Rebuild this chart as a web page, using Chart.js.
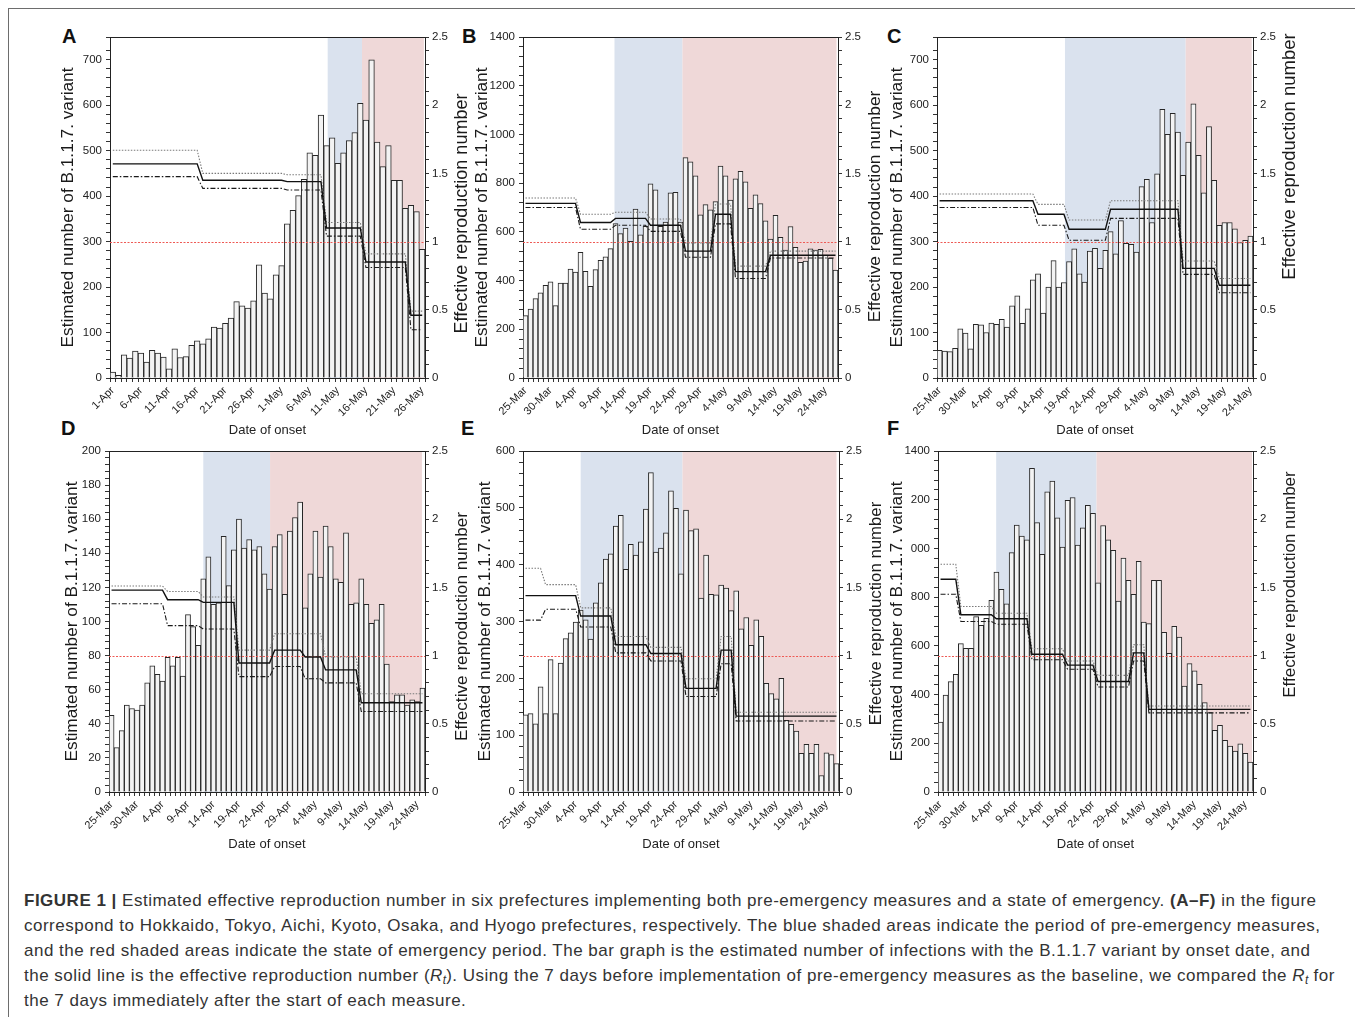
<!DOCTYPE html>
<html><head><meta charset="utf-8">
<script src="https://cdn.jsdelivr.net/npm/chart.js@4.4.1/dist/chart.umd.min.js"></script>
<style>
html,body{margin:0;padding:0;background:#fff;}
body{width:1355px;height:1017px;position:relative;overflow:hidden;font-family:'Liberation Sans',Arial,Helvetica,sans-serif;}
#frame{position:absolute;left:8px;top:8px;width:1400px;height:1100px;border:1px solid #6d6d6d;}
.lt{position:absolute;font-weight:bold;font-size:20px;line-height:20px;color:#111;}
canvas{position:absolute;}
#cap{position:absolute;left:24px;top:888px;font-size:17px;line-height:25px;color:#333;white-space:nowrap;letter-spacing:0.5px;}
#cap sub{font-size:70%;line-height:0;vertical-align:-0.25em;letter-spacing:0;}
</style></head>
<body>
<div id="frame"></div>
<div class="lt" style="left:62px;top:26px">A</div>
<div class="lt" style="left:462px;top:26px">B</div>
<div class="lt" style="left:887px;top:26px">C</div>
<div class="lt" style="left:61px;top:418px">D</div>
<div class="lt" style="left:461px;top:418px">E</div>
<div class="lt" style="left:887px;top:418px">F</div>
<div id="cap"><b>FIGURE 1 |</b> Estimated effective reproduction number in six prefectures implementing both pre-emergency measures and a state of emergency. <b>(A–F)</b> in the figure<br>correspond to Hokkaido, Tokyo, Aichi, Kyoto, Osaka, and Hyogo prefectures, respectively. The blue shaded areas indicate the period of pre-emergency measures,<br>and the red shaded areas indicate the state of emergency period. The bar graph is the estimated number of infections with the B.1.1.7 variant by onset date, and<br>the solid line is the effective reproduction number (<i>R<sub>t</sub></i>). Using the 7 days before implementation of pre-emergency measures as the baseline, we compared the <i>R<sub>t</sub></i> for<br>the 7 days immediately after the start of each measure.</div>
<script>
// ---------------- DATA ----------------
const dates = ['25-Mar','26-Mar','27-Mar','28-Mar','29-Mar','30-Mar','31-Mar',
 '1-Apr','2-Apr','3-Apr','4-Apr','5-Apr','6-Apr','7-Apr','8-Apr','9-Apr','10-Apr',
 '11-Apr','12-Apr','13-Apr','14-Apr','15-Apr','16-Apr','17-Apr','18-Apr','19-Apr','20-Apr',
 '21-Apr','22-Apr','23-Apr','24-Apr','25-Apr','26-Apr','27-Apr','28-Apr','29-Apr','30-Apr',
 '1-May','2-May','3-May','4-May','5-May','6-May','7-May','8-May','9-May','10-May',
 '11-May','12-May','13-May','14-May','15-May','16-May','17-May','18-May','19-May','20-May',
 '21-May','22-May','23-May','24-May','25-May','26-May'];

const catA = dates.slice(7);      // 1-Apr .. 26-May
const catB = dates.slice(0, 63);  // 25-Mar .. 26-May
const catC = dates.slice(0, 61);  // 25-Mar .. 24-May
const catD = dates.slice(0, 62);  // 25-Mar .. 25-May
const catE = dates.slice(0, 63);
const catF = dates.slice(0, 62);

const barsA = [13,6,51,44,59,55,35,61,55,46,20,64,45,47,72,82,75,86,112,110,120,132,168,159,154,170,249,187,174,227,247,339,369,401,437,495,490,578,511,528,472,495,522,540,604,567,700,519,465,511,435,435,373,380,366,283];
const barsB = [256,283,326,350,380,395,297,390,390,447,435,516,438,376,445,483,497,531,634,593,616,561,694,588,623,797,773,623,640,760,762,640,905,887,830,670,712,690,724,870,830,730,818,848,805,697,752,716,645,570,668,578,525,622,536,475,480,530,525,528,505,492,443];
const barsC = [61,59,58,65,108,99,64,118,117,100,121,118,129,112,159,181,120,152,216,229,143,200,258,200,210,256,284,229,211,279,285,241,281,322,273,346,296,294,277,421,437,342,449,591,536,582,541,446,519,603,490,407,553,435,336,342,342,328,298,303,312];
const barsD = [45,26,36,51,49,48,51,64,74,69,65,79,74,79,68,104,97,86,125,138,110,111,150,121,142,160,143,148,142,144,128,119,144,151,116,153,161,170,108,128,153,126,156,144,125,123,152,110,111,125,110,99,101,110,75,53,57,57,51,54,53,61];
const barsE = [136,138,120,185,138,233,138,227,270,280,299,320,303,269,333,368,410,419,468,487,392,436,417,440,498,562,422,429,456,530,499,384,496,460,463,341,417,348,347,364,359,319,354,287,307,258,303,274,191,173,164,200,126,119,107,68,84,68,84,29,69,66,50];
const barsF = [287,398,453,483,609,590,590,720,684,713,787,903,832,773,983,1096,1051,1035,1329,1106,976,1232,1277,1126,1006,1197,1209,1014,1085,1177,1144,859,1094,1035,992,784,960,869,812,947,698,691,869,869,656,569,680,636,435,527,497,442,367,326,253,274,212,189,168,198,159,123];

// Effective reproduction number (solid), upper bound (dotted), lower bound (dash-dot)
const rtA = [
 1.57,1.57,1.57,1.57,1.57, 1.57,1.57,1.57,1.57,1.57, 1.57,1.57,1.57,1.57,1.57, 1.57,
 1.45,1.45,1.45,1.45,1.45, 1.45,1.45,1.45,1.45,1.45, 1.45,1.45,1.45,1.45,1.45,
 1.44,1.44,1.44,1.44,1.44, 1.44,1.44,
 1.10,1.10,1.10,1.10,1.10, 1.10,1.10,
 0.85,0.85,0.85,0.85,0.85, 0.85,0.85,0.85,
 0.46,0.46,0.46];
const upA = [
 1.67,1.67,1.67,1.67,1.67, 1.67,1.67,1.67,1.67,1.67, 1.67,1.67,1.67,1.67,1.67, 1.67,
 1.50,1.50,1.50,1.50,1.50, 1.50,1.50,1.50,1.50,1.50, 1.50,1.50,1.50,1.50,1.50,
 1.49,1.49,1.49,1.49,1.49, 1.49,1.49,
 1.14,1.14,1.14,1.14,1.14, 1.14,1.14,
 0.91,0.91,0.91,0.91,0.91, 0.91,0.91,0.91,
 0.49,0.49,0.49];
const loA = [
 1.476,1.476,1.476,1.476,1.476, 1.476,1.476,1.476,1.476,1.476, 1.476,1.476,1.476,1.476,1.476, 1.476,
 1.39,1.39,1.39,1.39,1.39, 1.39,1.39,1.39,1.39,1.39, 1.39,1.39,1.39,1.39,1.39,
 1.378,1.378,1.378,1.378,1.378, 1.378,1.378,
 1.04,1.04,1.04,1.04,1.04, 1.04,1.04,
 0.81,0.81,0.81,0.81,0.81, 0.81,0.81,0.81,
 0.354,0.354,0.354];

const rtB = [
 1.28,1.28,1.28,1.28,1.28, 1.28,1.28,1.28,1.28,1.28, 1.28,
 1.14,1.14,1.14,1.14,1.14, 1.14,1.14,
 1.17,1.17,1.17,1.17,1.17, 1.17,1.17,
 1.12,1.12,1.12,1.12,1.12, 1.12,1.12,
 0.93,0.93,0.93,0.93,0.93, 0.93,
 1.20,1.20,1.20,1.20,
 0.78,0.78,0.78,0.78,0.78, 0.78,0.78,
 0.90,0.90,0.90,0.90,0.90, 0.90,0.90,0.90,0.90,0.90, 0.90,0.90,0.90,0.90];
const upB = [
 1.32,1.32,1.32,1.32,1.32, 1.32,1.32,1.32,1.32,1.32, 1.32,
 1.20,1.20,1.20,1.20,1.20, 1.20,1.20,
 1.215,1.215,1.215,1.215,1.215, 1.215,1.215,
 1.166,1.166,1.166,1.166,1.166, 1.166,1.166,
 0.99,0.99,0.99,0.99,0.99, 0.99,
 1.276,1.276,1.276,1.276,
 0.82,0.82,0.82,0.82,0.82, 0.82,0.82,
 0.93,0.93,0.93,0.93,0.93, 0.93,0.93,0.93,0.93,0.93, 0.93,0.93,0.93,0.93];
const loB = [
 1.25,1.25,1.25,1.25,1.25, 1.25,1.25,1.25,1.25,1.25, 1.25,
 1.09,1.09,1.09,1.09,1.09, 1.09,1.09,
 1.12,1.12,1.12,1.12,1.12, 1.12,1.12,
 1.075,1.075,1.075,1.075,1.075, 1.075,1.075,
 0.885,0.885,0.885,0.885,0.885, 0.885,
 1.13,1.13,1.13,1.13,
 0.73,0.73,0.73,0.73,0.73, 0.73,0.73,
 0.88,0.88,0.88,0.88,0.88, 0.88,0.88,0.88,0.88,0.88, 0.88,0.88,0.88,0.88];

const rtC = [
 1.30,1.30,1.30,1.30,1.30, 1.30,1.30,1.30,1.30,1.30, 1.30,1.30,1.30,1.30,1.30, 1.30,1.30,1.30,1.30,
 1.20,1.20,1.20,1.20,1.20, 1.20,
 1.09,1.09,1.09,1.09,1.09, 1.09,1.09,1.09,
 1.237,1.237,1.237,1.237,1.237, 1.237,1.237,1.237,1.237,1.237, 1.237,1.237,1.237,1.237,
 0.804,0.804,0.804,0.804,0.804, 0.804,0.804,
 0.68,0.68,0.68,0.68,0.68, 0.68,0.68];
const upC = [
 1.349,1.349,1.349,1.349,1.349, 1.349,1.349,1.349,1.349,1.349, 1.349,1.349,1.349,1.349,1.349, 1.349,1.349,1.349,1.349,
 1.273,1.273,1.273,1.273,1.273, 1.273,
 1.158,1.158,1.158,1.158,1.158, 1.158,1.158,1.158,
 1.30,1.30,1.30,1.30,1.30, 1.30,1.30,1.30,1.30,1.30, 1.30,1.30,1.30,1.30,
 0.858,0.858,0.858,0.858,0.858, 0.858,0.858,
 0.73,0.73,0.73,0.73,0.73, 0.73,0.73];
const loC = [
 1.25,1.25,1.25,1.25,1.25, 1.25,1.25,1.25,1.25,1.25, 1.25,1.25,1.25,1.25,1.25, 1.25,1.25,1.25,1.25,
 1.12,1.12,1.12,1.12,1.12, 1.12,
 1.01,1.01,1.01,1.01,1.01, 1.01,1.01,1.01,
 1.17,1.17,1.17,1.17,1.17, 1.17,1.17,1.17,1.17,1.17, 1.17,1.17,1.17,1.17,
 0.76,0.76,0.76,0.76,0.76, 0.76,0.76,
 0.625,0.625,0.625,0.625,0.625, 0.625,0.625];

const rtD = [
 1.48,1.48,1.48,1.48,1.48, 1.48,1.48,1.48,1.48,1.48, 1.48,
 1.41,1.41,1.41,1.41,1.41, 1.41,1.41,
 1.39,1.39,1.39,1.39,1.39, 1.39,1.39,
 0.946,0.946,0.946,0.946,0.946, 0.946,0.946,
 1.04,1.04,1.04,1.04,1.04, 1.04,
 0.99,0.99,0.99,0.99,
 0.895,0.895,0.895,0.895,0.895, 0.895,0.895,
 0.654,0.654,0.654,0.654,0.654, 0.654,0.654,0.654,0.654,0.654, 0.654,0.654,0.654];
const upD = [
 1.51,1.51,1.51,1.51,1.51, 1.51,1.51,1.51,1.51,1.51, 1.51,
 1.47,1.47,1.47,1.47,1.47, 1.47,1.47,
 1.43,1.43,1.43,1.43,1.43, 1.43,1.43,
 1.04,1.04,1.04,1.04,1.04, 1.04,1.04,
 1.16,1.16,1.16,1.16,1.16, 1.16,
 1.16,1.16,1.16,1.16,
 0.99,0.99,0.99,0.99,0.99, 0.99,0.99,
 0.72,0.72,0.72,0.72,0.72, 0.72,0.72,0.72,0.72,0.72, 0.72,0.72,0.72];
const loD = [
 1.38,1.38,1.38,1.38,1.38, 1.38,1.38,1.38,1.38,1.38, 1.38,
 1.22,1.22,1.22,1.22,1.22, 1.22,1.22,
 1.195,1.195,1.195,1.195,1.195, 1.195,1.195,
 0.846,0.846,0.846,0.846,0.846, 0.846,0.846,
 0.92,0.92,0.92,0.92,0.92, 0.92,
 0.83,0.83,0.83,0.83,
 0.80,0.80,0.80,0.80,0.80, 0.80,0.80,
 0.59,0.59,0.59,0.59,0.59, 0.59,0.59,0.59,0.59,0.59, 0.59,0.59,0.59];

const rtE = [
 1.44,1.44,1.44,1.44,
 1.44,1.44,1.44,1.44,1.44, 1.44,1.44,
 1.29,1.29,1.29,1.29,1.29, 1.29,1.29,
 1.08,1.08,1.08,1.08,1.08, 1.08,1.08,
 1.015,1.015,1.015,1.015,1.015, 1.015,1.015,
 0.76,0.76,0.76,0.76,0.76, 0.76,0.76,
 1.04,1.04,1.04,
 0.556,0.556,0.556,0.556,0.556, 0.556,0.556,0.556,0.556,0.556, 0.556,0.556,0.556,0.556,0.556, 0.556,0.556,0.556,0.556,0.556, 0.556];
const upE = [
 1.64,1.64,1.64,1.64,
 1.52,1.52,1.52,1.52,1.52, 1.52,1.52,
 1.35,1.35,1.35,1.35,1.35, 1.35,1.35,
 1.14,1.14,1.14,1.14,1.14, 1.14,1.14,
 1.06,1.06,1.06,1.06,1.06, 1.06,1.06,
 0.83,0.83,0.83,0.83,0.83, 0.83,0.83,
 1.14,1.14,1.14,
 0.585,0.585,0.585,0.585,0.585, 0.585,0.585,0.585,0.585,0.585, 0.585,0.585,0.585,0.585,0.585, 0.585,0.585,0.585,0.585,0.585, 0.585];
const loE = [
 1.26,1.26,1.26,1.26,
 1.34,1.34,1.34,1.34,1.34, 1.34,1.34,
 1.21,1.21,1.21,1.21,1.21, 1.21,1.21,
 1.02,1.02,1.02,1.02,1.02, 1.02,1.02,
 0.96,0.96,0.96,0.96,0.96, 0.96,0.96,
 0.70,0.70,0.70,0.70,0.70, 0.70,0.70,
 0.94,0.94,0.94,
 0.52,0.52,0.52,0.52,0.52, 0.52,0.52,0.52,0.52,0.52, 0.52,0.52,0.52,0.52,0.52, 0.52,0.52,0.52,0.52,0.52, 0.52];

const rtF = [
 1.56,1.56,1.56,1.56,
 1.30,1.30,1.30,1.30,1.30, 1.30,1.30,
 1.27,1.27,1.27,1.27,1.27, 1.27,1.27,
 1.01,1.01,1.01,1.01,1.01, 1.01,1.01,
 0.93,0.93,0.93,0.93,0.93, 0.93,
 0.81,0.81,0.81,0.81,0.81, 0.81,0.81,
 1.02,1.02,1.02,
 0.606,0.606,0.606,0.606,0.606, 0.606,0.606,0.606,0.606,0.606, 0.606,0.606,0.606,0.606,0.606, 0.606,0.606,0.606,0.606,0.606, 0.606];
const upF = [
 1.67,1.67,1.67,1.67,
 1.36,1.36,1.36,1.36,1.36, 1.36,1.36,
 1.31,1.31,1.31,1.31,1.31, 1.31,1.31,
 1.05,1.05,1.05,1.05,1.05, 1.05,1.05,
 0.96,0.96,0.96,0.96,0.96, 0.96,
 0.855,0.855,0.855,0.855,0.855, 0.855,0.855,
 1.08,1.08,1.08,
 0.63,0.63,0.63,0.63,0.63, 0.63,0.63,0.63,0.63,0.63, 0.63,0.63,0.63,0.63,0.63, 0.63,0.63,0.63,0.63,0.63, 0.63];
const loF = [
 1.45,1.45,1.45,1.45,
 1.25,1.25,1.25,1.25,1.25, 1.25,1.25,
 1.23,1.23,1.23,1.23,1.23, 1.23,1.23,
 0.97,0.97,0.97,0.97,0.97, 0.97,0.97,
 0.90,0.90,0.90,0.90,0.90, 0.90,
 0.77,0.77,0.77,0.77,0.77, 0.77,0.77,
 0.96,0.96,0.96,
 0.58,0.58,0.58,0.58,0.58, 0.58,0.58,0.58,0.58,0.58, 0.58,0.58,0.58,0.58,0.58, 0.58,0.58,0.58,0.58,0.58, 0.58];

// Shaded periods, in days from the left edge of the first bar
const preA = [38.7, 44.8],  soeA = [44.8, 55.8];
const preB = [18.3, 31.9],  soeB = [31.9, 62.7];
const preC = [24.7, 48.0],  soeC = [48.0, 60.75];
const preD = [18.5, 31.6],  soeD = [31.6, 61.4];
const preE = [11.5, 31.8],  soeE = [31.8, 62.5];
const preF = [11.45, 31.2], soeF = [31.2, 61.8];

// Axis tick labels
const countTicksA = [0,100,200,300,400,500,600,700];
const countLabelsA = ['0','100','200','300','400','500','600','700'];
const countTicksB = [0,200,400,600,800,1000,1200,1400];
const countLabelsB = ['0','200','400','600','800','1000','1200','1400'];
const countTicksC = [0,100,200,300,400,500,600,700];
const countLabelsC = ['0','100','200','300','400','500','600','700'];
const countTicksD = [0,20,40,60,80,100,120,140,160,180,200];
const countLabelsD = ['0','20','40','60','80','100','120','140','160','180','200'];
const countTicksE = [0,100,200,300,400,500,600];
const countLabelsE = ['0','100','200','300','400','500','600'];
const countTicksF = [0,200,400,600,800,1000,1200,1400];
const countLabelsF = ['0','200','400','600','800','000','200','1400'];
const rtTicks = [0,0.5,1,1.5,2,2.5];
const rtLabels = ['0','0.5','1','1.5','2','2.5'];

// ---------------- DRAWING ----------------
const FONT = "'Liberation Sans', Arial, Helvetica, sans-serif";
Chart.defaults.font.family = FONT;
Chart.defaults.color = '#222';

const decor = {
  id: 'decor',
  beforeDatasetsDraw(chart, args, o) {
    const {ctx, chartArea: ca, scales: {x}} = chart;
    const w = x.getPixelForValue(1) - x.getPixelForValue(0);
    const x0 = x.getPixelForValue(0) - w / 2;
    ctx.save();
    ctx.fillStyle = o.preColor;
    ctx.fillRect(x0 + o.pre[0] * w, ca.top, (o.pre[1] - o.pre[0]) * w, ca.bottom - ca.top);
    ctx.fillStyle = o.soeColor;
    ctx.fillRect(x0 + o.soe[0] * w, ca.top, (o.soe[1] - o.soe[0]) * w, ca.bottom - ca.top);
    ctx.restore();
  },
  afterDatasetDraw(chart, args, o) {
    if (args.index !== 0) return;
    const {ctx, chartArea: ca, scales: {y1}} = chart;
    const yy = Math.round(y1.getPixelForValue(1)) + 0.5;
    ctx.save();
    ctx.strokeStyle = o.refColor; ctx.lineWidth = 1; ctx.setLineDash([2, 1.5]);
    ctx.beginPath(); ctx.moveTo(ca.left, yy); ctx.lineTo(ca.right, yy); ctx.stroke();
    ctx.restore();
  },
  afterDraw(chart, args, o) {
    const {ctx, chartArea: ca} = chart;
    ctx.save();
    ctx.strokeStyle = '#222'; ctx.lineWidth = 1;
    const t = Math.round(ca.top) + 0.5;
    ctx.beginPath(); ctx.moveTo(ca.left, t); ctx.lineTo(ca.right, t); ctx.stroke();
    ctx.translate(ca.right + o.rtTitleGap, (ca.top + ca.bottom) / 2 + o.rtTitleShift);
    ctx.rotate(-Math.PI / 2);
    ctx.font = o.rtTitleSize + 'px ' + FONT;
    ctx.fillStyle = '#1a1a1a'; ctx.textAlign = 'center'; ctx.textBaseline = 'middle';
    ctx.fillText(o.rtTitle, 0, 0);
    ctx.restore();
  }
};

const LEFTW = 75, RIGHTW = 52, TOPPAD = 20, BOTH = 62;

function panel(p) {
  const cv = document.createElement('canvas');
  const W = LEFTW + p.w + RIGHTW, H = TOPPAD + p.h + BOTH;
  cv.width = W; cv.height = H;
  cv.style.left = (p.left - LEFTW) + 'px';
  cv.style.top = (p.top - TOPPAD) + 'px';
  cv.style.width = W + 'px'; cv.style.height = H + 'px';
  document.body.appendChild(cv);
  const majorLabel = (vals, labs) => (v) => {
    for (let i = 0; i < vals.length; i++) if (Math.abs(vals[i] - v) < 1e-6) return labs[i];
    return '';
  };
  const tickFont = {size: 11.5, family: FONT};
  new Chart(cv, {
    type: 'bar',
    data: {
      labels: p.cats,
      datasets: [
        {type: 'bar', data: p.bars, yAxisID: 'y', backgroundColor: '#f3f3f3', borderColor: '#262626',
         borderWidth: 1, barPercentage: 1, categoryPercentage: 1, order: 10},
        {type: 'line', data: p.up, yAxisID: 'y1', borderColor: '#7a7a7a', borderWidth: 1.1,
         borderDash: [1.5, 1.5], pointRadius: 0, tension: 0, fill: false, order: 3},
        {type: 'line', data: p.lo, yAxisID: 'y1', borderColor: '#1a1a1a', borderWidth: 1.1,
         borderDash: [5, 2, 1.5, 2], pointRadius: 0, tension: 0, fill: false, order: 2},
        {type: 'line', data: p.rt, yAxisID: 'y1', borderColor: '#111', borderWidth: 1.4,
         pointRadius: 0, tension: 0, fill: false, order: 1}
      ]
    },
    options: {
      responsive: false, animation: false, devicePixelRatio: 1,
      layout: {padding: {top: TOPPAD, left: 0, right: 0, bottom: 0}},
      plugins: {
        legend: {display: false}, tooltip: {enabled: false},
        decor: {pre: p.pre, soe: p.soe, preColor: '#dae2ee', soeColor: '#efd8d8', refColor: '#ee5a55',
                rtTitle: 'Effective reproduction number', rtTitleGap: 37, rtTitleShift: p.rtShift, rtTitleSize: p.rtSize}
      },
      scales: {
        x: {
          type: 'category', offset: true,
          grid: {display: true, drawOnChartArea: false, drawTicks: true, tickLength: 4, color: '#333', offset: true},
          border: {display: true, color: '#222', width: 1},
          ticks: {autoSkip: false, maxRotation: 45, minRotation: 45, font: {size: 11, family: FONT}, padding: 2,
                  callback: (v, i) => (i % 5 === 0 ? p.cats[i] : '')},
          title: {display: true, text: 'Date of onset', font: {size: 13, family: FONT}, padding: {top: 0, bottom: 2}},
          afterFit: s => { s.height = BOTH; }
        },
        y: {
          position: 'left', min: 0, max: p.yMax,
          ticks: {stepSize: p.yStep, autoSkip: false, font: tickFont, padding: 4, callback: majorLabel(p.yTicks, p.yLabels)},
          grid: {drawOnChartArea: false, drawTicks: true, tickLength: 4, color: '#333'},
          border: {display: true, color: '#222', width: 1},
          title: {display: true, text: 'Estimated number of B.1.1.7. variant', font: {size: 17.25, family: FONT},
                  color: '#1a1a1a', padding: {top: LEFTW - p.titleGap - 10.35, bottom: 0}},
          afterFit: s => { s.width = LEFTW; }
        },
        y1: {
          position: 'right', min: 0, max: 2.5,
          ticks: {stepSize: 0.1, autoSkip: false, font: tickFont, padding: 3, callback: majorLabel(rtTicks, rtLabels)},
          grid: {drawOnChartArea: false, drawTicks: true, tickLength: 4, color: '#333'},
          border: {display: true, color: '#222', width: 1},
          afterFit: s => { s.width = RIGHTW; }
        }
      }
    },
    plugins: [decor]
  });
}

panel({left:110, top:37, w:315, h:341, titleGap:42, rtShift:6,   rtSize:18,   cats:catA, bars:barsA, rt:rtA, up:upA, lo:loA, yMax:750,  yStep:20, yTicks:countTicksA, yLabels:countLabelsA, pre:preA, soe:soeA});
panel({left:523, top:37, w:315, h:341, titleGap:41, rtShift:-1,  rtSize:17.4, cats:catB, bars:barsB, rt:rtB, up:upB, lo:loB, yMax:1400, yStep:40, yTicks:countTicksB, yLabels:countLabelsB, pre:preB, soe:soeB});
panel({left:937, top:37, w:316, h:341, titleGap:40, rtShift:-51, rtSize:18.5, cats:catC, bars:barsC, rt:rtC, up:upC, lo:loC, yMax:750,  yStep:20, yTicks:countTicksC, yLabels:countLabelsC, pre:preC, soe:soeC});
panel({left:109, top:451, w:316, h:341, titleGap:37, rtShift:5,  rtSize:17.2, cats:catD, bars:barsD, rt:rtD, up:upD, lo:loD, yMax:200,  yStep:4,  yTicks:countTicksD, yLabels:countLabelsD, pre:preD, soe:soeD});
panel({left:523, top:451, w:316, h:341, titleGap:38, rtShift:-8, rtSize:16.8, cats:catE, bars:barsE, rt:rtE, up:upE, lo:loE, yMax:600,  yStep:20, yTicks:countTicksE, yLabels:countLabelsE, pre:preE, soe:soeE});
panel({left:938, top:451, w:315, h:341, titleGap:41, rtShift:-37, rtSize:17,  cats:catF, bars:barsF, rt:rtF, up:upF, lo:loF, yMax:1400, yStep:40, yTicks:countTicksF, yLabels:countLabelsF, pre:preF, soe:soeF});

// sanity check of series lengths
[[catA,barsA,rtA,upA,loA],[catB,barsB,rtB,upB,loB],[catC,barsC,rtC,upC,loC],[catD,barsD,rtD,upD,loD],[catE,barsE,rtE,upE,loE],[catF,barsF,rtF,upF,loF]]
 .forEach((g, k) => { g.forEach((a, j) => { if (a.length !== g[0].length) console.error('length mismatch panel ' + 'ABCDEF'[k] + ' series ' + j + ': ' + a.length + ' vs ' + g[0].length); }); });
</script>
</body></html>
